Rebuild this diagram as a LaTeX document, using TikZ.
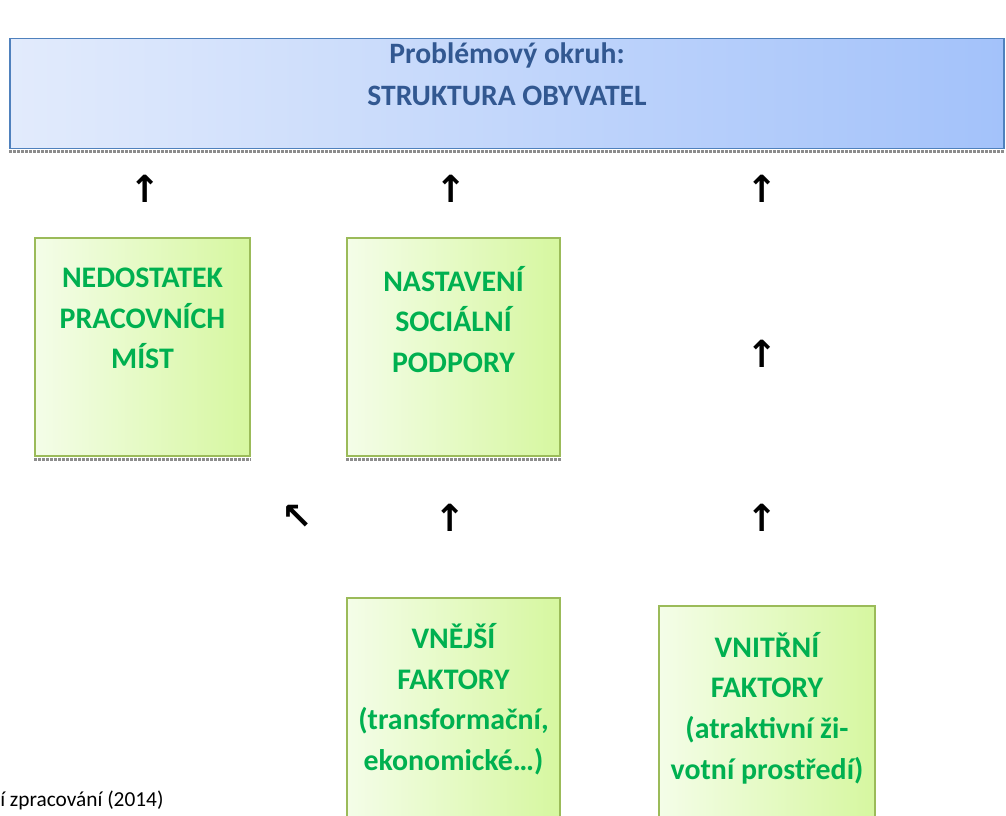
\documentclass[tikz,border=0pt]{standalone}
\usepackage{fontspec}
\setmainfont{Carlito}
\newfontfamily\arrowfont{DejaVu Sans}

\definecolor{titleblue}{RGB}{50,88,145}
\definecolor{boxblue}{RGB}{79,129,189}
\definecolor{blueleft}{RGB}{226,235,252}
\definecolor{blueright}{RGB}{163,194,250}
\definecolor{textgreen}{RGB}{0,176,80}
\definecolor{boxgreen}{RGB}{155,187,89}
\definecolor{greenleft}{RGB}{244,253,232}
\definecolor{greenright}{RGB}{214,247,160}

% box content: width, height, space above, lines
\newcommand{\obsah}[4]{\parbox[c][#2][t]{#1}{\centering\vspace*{#3}\rule{0pt}{16pt}#4}}

\tikzset{
okruhbox/.style={rectangle, draw=boxblue, line width=0.8pt, left color=blueleft, right color=blueright, inner sep=0pt,
  text=titleblue, font=\bfseries\fontsize{22.2pt}{31.5pt}\selectfont},
greenbox/.style={rectangle, draw=boxgreen, line width=1.2pt, left color=greenleft, right color=greenright, inner sep=0pt,
  text=textgreen, font=\bfseries\fontsize{22.4pt}{30.5pt}\selectfont},
sipka/.style={inner sep=0pt, font=\arrowfont\bfseries\fontsize{28pt}{28pt}\selectfont},
stin/.style={black!45, line width=2pt, densely dotted},
zdroj/.style={inner sep=0pt, font=\fontsize{16pt}{18pt}\selectfont}
}

\begin{document}
\begin{tikzpicture}[x=0.75pt,y=-0.75pt]
\useasboundingbox (0,0) rectangle (1006,816);

% problem
\node [okruhbox] (okruh) at (507,93.5) {\obsah{745.5pt}{82.5pt}{3pt}{Problémový okruh:\\STRUKTURA OBYVATEL}};
\draw [stin] ([yshift=-2pt]okruh.south west) -- ([yshift=-2pt]okruh.south east);

% causes
\node [greenbox] (nedostatek) at (142.5,347) {\obsah{161.25pt}{163.5pt}{21pt}{NEDOSTATEK\\PRACOVNÍCH\\MÍST}};
\node [greenbox] (podpora) at (453.5,347) {\obsah{159.75pt}{163.5pt}{21pt}{NASTAVENÍ\\SOCIÁLNÍ\\PODPORY}};
\draw [stin] ([yshift=-2pt]nedostatek.south west) -- ([yshift=-2pt]nedostatek.south east);
\draw [stin] ([yshift=-2pt]podpora.south west) -- ([yshift=-2pt]podpora.south east);

\node [greenbox] (vnejsi) at (453.5,714) {\obsah{159.75pt}{174pt}{19pt}{VNĚJŠÍ\\FAKTORY\\(transformační,\\ekonomické…)}};
\node [greenbox] (vnitrni) at (767,718) {\obsah{162pt}{168pt}{19.5pt}{VNITŘNÍ\\FAKTORY\\(atraktivní ži-\\votní prostředí)}};

% arrows
\node [sipka] (a1) at (145,189) {↑};
\node [sipka] (a2) at (451,189) {↑};
\node [sipka] (a3) at (762,189) {↑};
\node [sipka] (a4) at (762,354) {↑};
\node [sipka] (a5) at (297,517) {↖};
\node [sipka] (a6) at (450,518) {↑};
\node [sipka] (a7) at (762,518) {↑};

\node [zdroj, anchor=west] (zdroj) at (0,800) {í zpracování (2014)};
\end{tikzpicture}
\end{document}
